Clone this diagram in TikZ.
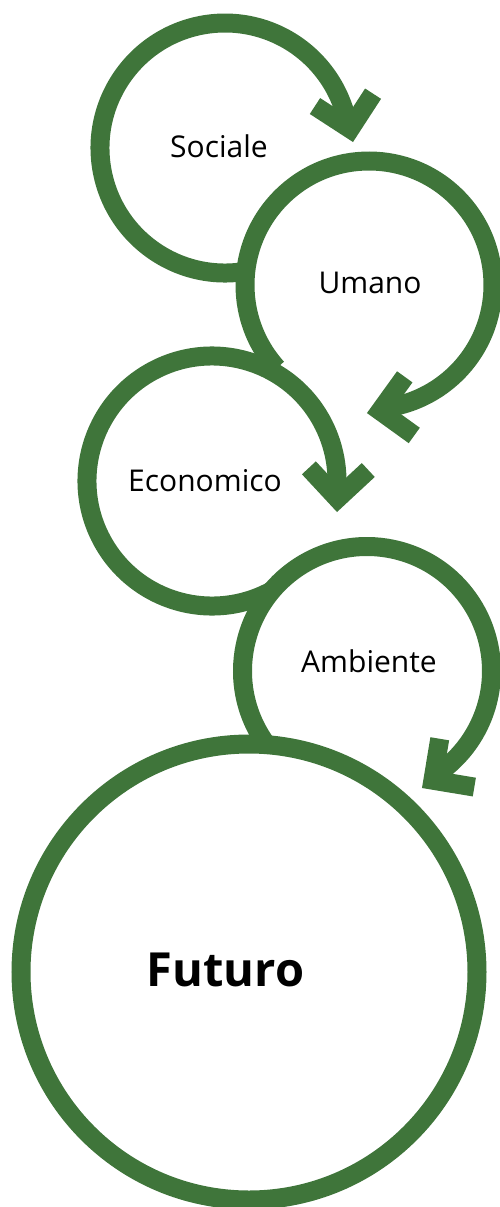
\documentclass[tikz,border=0pt]{standalone}
\usepackage{fontspec}
\setmainfont{Open Sans}
\definecolor{ringgreen}{RGB}{63,117,58}

\begin{document}
\begin{tikzpicture}[x=1pt,y=1pt,
    ring/.style={draw=ringgreen,line width=19pt},
    barb/.style={ring,line join=miter,line cap=butt},
    ringlabel/.style={font=\fontsize{30}{36}\selectfont}]
  \useasboundingbox (0,0) rectangle (499,-1207);

  \coordinate (SocialeC)   at (225,-148);
  \coordinate (UmanoC)     at (369,-285);
  \coordinate (EconomicoC) at (212,-481);
  \coordinate (AmbienteC)  at (367,-671);
  \coordinate (FuturoC)    at (249,-972);

  \node[ringlabel] (Sociale)   at (219,-146)   {Sociale};
  \node[ringlabel] (Umano)     at (370,-282.5) {Umano};
  \node[ringlabel] (Economico) at (205,-481)   {Economico};
  \node[ringlabel] (Ambiente)  at (369,-661.5) {Ambiente};
  \node[font=\fontsize{47}{56}\selectfont\bfseries] (Futuro) at (225.5,-969.5) {Futuro};

  % arrow corners
  \coordinate (SocialeTip)   at (350.2,-128.9);
  \coordinate (UmanoTip)     at (380.2,-410.9);
  \coordinate (EconomicoTip) at (337.5,-498.6);
  \coordinate (AmbienteTip)  at (432.9,-780.2);

  \draw[ring] ([shift={(279.5:125)}]SocialeC)
    arc[start angle=279.5,end angle=9,radius=125pt];
  \draw[ring] ([shift={(222:124)}]UmanoC)
    arc[start angle=222,end angle=-85,radius=124pt];
  \draw[ring] ([shift={(-61:125)}]EconomicoC)
    arc[start angle=-61,end angle=-368,radius=125pt];
  \draw[ring] ([shift={(216:124.5)}]AmbienteC)
    arc[start angle=216,end angle=-59,radius=124.5pt];

  \foreach \tip/\dir in {SocialeTip/-78,UmanoTip/189.2,EconomicoTip/-92.1,AmbienteTip/215.6}
    \draw[barb] ([shift={(\dir+135:42)}]\tip) -- (\tip) -- ([shift={(\dir-135:42)}]\tip);

  \draw[ring] (FuturoC) circle[radius=228pt];
\end{tikzpicture}
\end{document}
